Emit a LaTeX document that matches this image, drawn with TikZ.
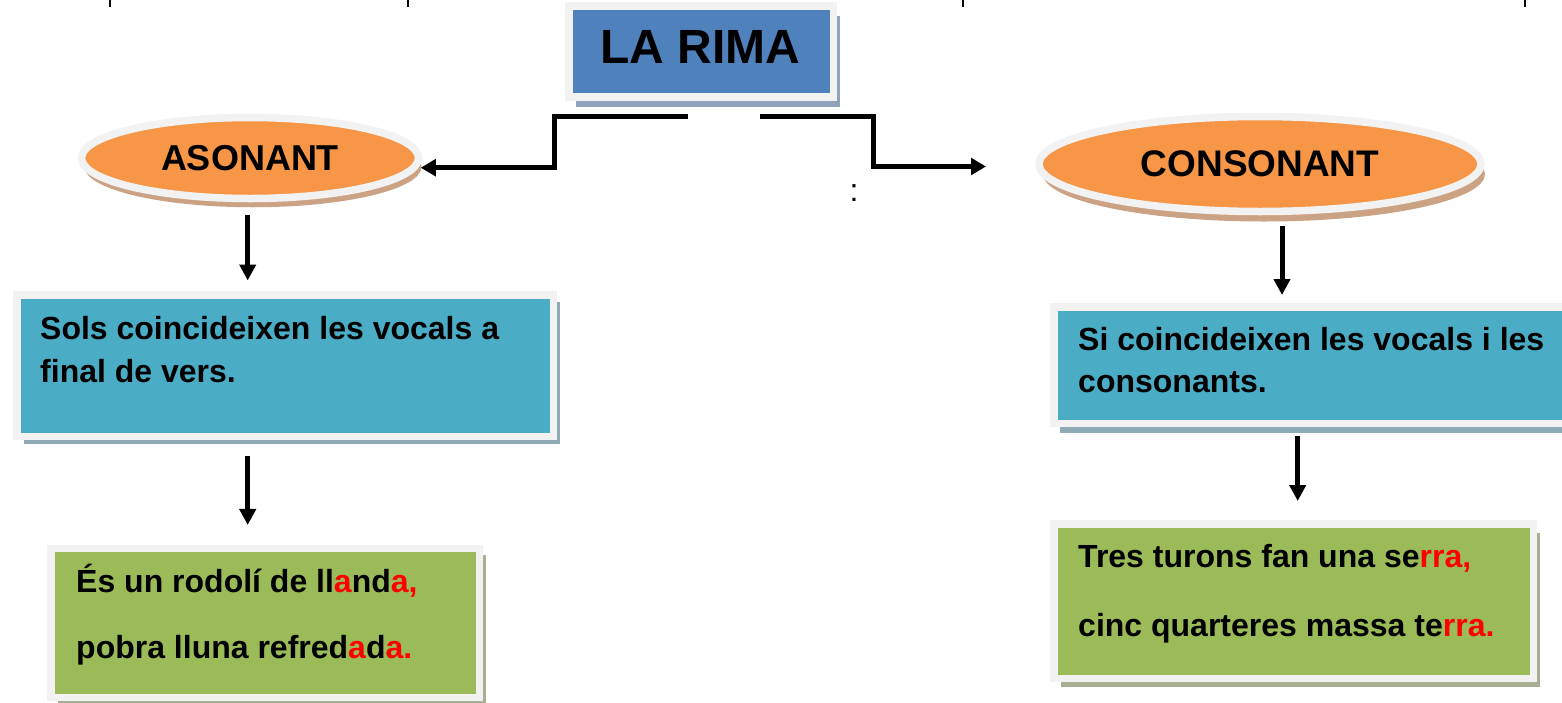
\documentclass[tikz,border=0pt]{standalone}
\usepackage{fontspec}
\setmainfont{Liberation Sans}
\usetikzlibrary{shapes.geometric,shadows,arrows.meta}
\definecolor{titleblue}{HTML}{4F81BD}
\definecolor{titleshadow}{HTML}{90A3BB}
\definecolor{ovalorange}{HTML}{F79646}
\definecolor{ovalshadow}{HTML}{CCA284}
\definecolor{tealbox}{HTML}{4BACC6}
\definecolor{tealshadow}{HTML}{8EAAB5}
\definecolor{greenbox}{HTML}{9BBB59}
\definecolor{greenshadow}{HTML}{A7AF93}
\definecolor{bordergray}{HTML}{F2F2F2}
\definecolor{rimred}{HTML}{FF0000}
\begin{document}
\begin{tikzpicture}[x=1pt,y=-1pt,
  boxshape/.style={rectangle, draw=bordergray, line width=7.5pt, inner sep=0pt},
  ovalshape/.style={ellipse, draw=bordergray, line width=7.5pt, fill=ovalorange, inner sep=0pt,
     font=\fontsize{36}{42}\selectfont\bfseries},
  txtline/.style={anchor=base west, inner sep=0pt, font=\fontsize{32}{38}\selectfont\bfseries},
  arr/.style={line width=5pt, -{Triangle[length=16pt,width=16pt]}},
  conn/.style={line width=5pt, -{Triangle[length=15pt,width=16.5pt]}},
]
\useasboundingbox (0,0) rectangle (1562,702);
\fill[white] (0,0) rectangle (1562,702);

% cut-off marks at the top edge
\foreach \xx in {110,408,963,1525} \draw[line width=2.5pt] (\xx,0) -- (\xx,7);

% title
\node[boxshape, fill=titleblue, minimum width=264.5pt, minimum height=91pt,
  drop shadow={shadow xshift=6.75pt, shadow yshift=-9.75pt, fill=titleshadow, opacity=1}]
  (title) at (701,51.25) {};
\node[anchor=base, inner sep=0pt, font=\fontsize{48}{56}\selectfont\bfseries] (titletext) at (700.5,63) {LA RIMA};

% ovals
\node[ovalshape, minimum width=337pt, minimum height=81pt,
  drop shadow={shadow xshift=3pt, shadow yshift=-8.75pt, fill=ovalshadow, opacity=1}]
  (asonant) at (250,158) {ASONANT};
\node[ovalshape, font=\fontsize{37}{42}\selectfont\bfseries, minimum width=442pt, minimum height=95pt,
  drop shadow={shadow xshift=4pt, shadow yshift=-10pt, fill=ovalshadow, opacity=1}]
  (consonant) at (1260,164) {CONSONANT};

% colon
\node[anchor=base, inner sep=0pt, font=\fontsize{32}{38}\selectfont] (colon) at (854,201) {:};

% blue boxes
\node[boxshape, fill=tealbox, minimum width=536.5pt, minimum height=141.5pt,
  drop shadow={shadow xshift=7pt, shadow yshift=-7.5pt, fill=tealshadow, opacity=1}]
  (blueleft) at (285,365.5) {};
\node[txtline] (bl1) at (40,339) {Sols coincideixen les vocals a};
\node[txtline] (bl2) at (40,382) {final de vers.};

\node[boxshape, fill=tealbox, minimum width=516.25pt, minimum height=116.5pt,
  drop shadow={shadow xshift=6pt, shadow yshift=-9.5pt, fill=tealshadow, opacity=1}]
  (blueright) at (1311.9,365) {};
\node[txtline] (br1) at (1078,350) {Si coincideixen les vocals i les};
\node[txtline] (br2) at (1078,392) {consonants.};

% green boxes
\node[boxshape, fill=greenbox, minimum width=428.5pt, minimum height=148.75pt,
  drop shadow={shadow xshift=6.75pt, shadow yshift=-6pt, fill=greenshadow, opacity=1}]
  (greenleft) at (265,623.1) {};
\node[txtline] (gl1) at (76,592) {És un rodolí de ll\textcolor{rimred}{a}nd\textcolor{rimred}{a,}};
\node[txtline] (gl2) at (76,658) {pobra lluna refred\textcolor{rimred}{a}d\textcolor{rimred}{a.}};

\node[boxshape, fill=greenbox, minimum width=479.5pt, minimum height=154.5pt,
  drop shadow={shadow xshift=6.75pt, shadow yshift=-8.75pt, fill=greenshadow, opacity=1}]
  (greenright) at (1293.5,601) {};
\node[txtline] (gr1) at (1078,567) {Tres turons fan una se\textcolor{rimred}{rra,}};
\node[txtline] (gr2) at (1078,636) {cinc quarteres massa te\textcolor{rimred}{rra.}};

% connectors from the title
\coordinate (lstart) at (688,116);
\coordinate (lbend) at (554,116);
\coordinate (rstart) at (760,116);
\coordinate (rbend) at (873,116);
\coordinate (rtip) at (986,166.5);
\draw[conn] (lstart) -- (lbend) |- ([xshift=-1.5pt,yshift=-9.7pt]asonant.east);
\draw[conn] (rstart) -- (rbend) |- (rtip);

% vertical arrows
\draw[arr] ([xshift=-2.3pt,yshift=-13pt]asonant.south) -- ([xshift=-37.3pt,yshift=10.5pt]blueleft.north);
\draw[arr] ([xshift=-37.3pt,yshift=-16pt]blueleft.south) -- ([xshift=-17.3pt,yshift=20pt]greenleft.north);
\draw[arr] ([xshift=22pt,yshift=-11pt]consonant.south) -- ([xshift=-29.9pt,yshift=8pt]blueright.north);
\draw[arr] ([xshift=-14.2pt,yshift=-9pt]blueright.south) -- ([xshift=4.2pt,yshift=19pt]greenright.north);
\end{tikzpicture}
\end{document}
